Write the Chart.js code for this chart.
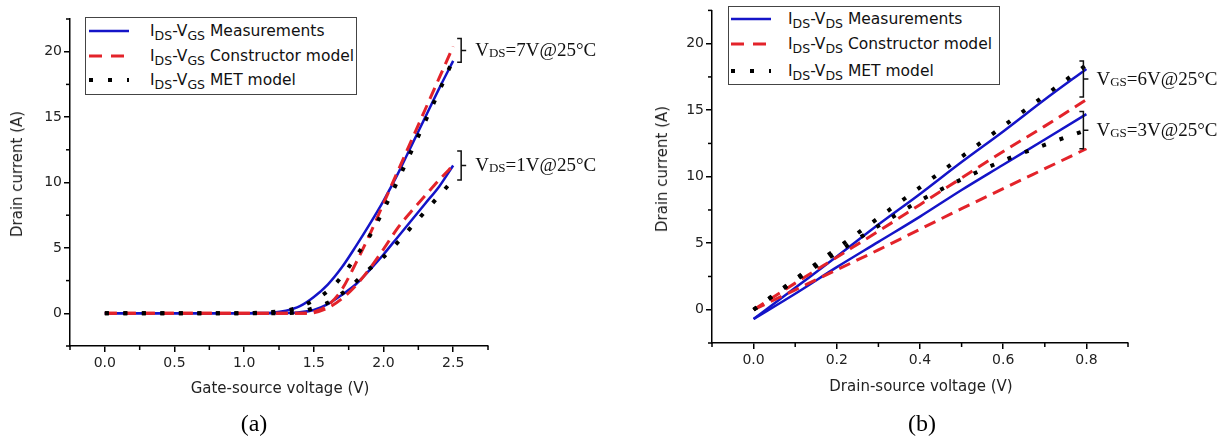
<!DOCTYPE html>
<html>
<head>
<meta charset="utf-8">
<script src="https://cdn.jsdelivr.net/npm/chart.js@4.4.1/dist/chart.umd.min.js"></script>
<style>
  body { margin: 0; background: #fff; width: 1227px; height: 440px; overflow: hidden; position: relative;
         font-family: "DejaVu Sans", sans-serif; color: #111; }
  .panel { position: absolute; top: 0; height: 440px; }
  .t { position: absolute; white-space: nowrap; transform: translate(-50%, -50%); }
  .ytitle { transform: translate(-50%, -50%) rotate(-90deg); }
  .axt { font-size: 15px; color: #222; }
  .cap { font-family: "Liberation Serif", serif; font-size: 24px; color: #000; }
  .lgd { position: absolute; border: 1px solid #444; background: #fff; }
  .row { position: absolute; left: 0; height: 24px; display: flex; align-items: center; white-space: nowrap; font-size: 15.5px; }
  .row svg { position: absolute; }
  .row span { position: absolute; }
  sub { font-size: 12.5px; vertical-align: -4px; line-height: 0; }
  .ann { position: absolute; white-space: nowrap; transform: translateY(-50%); font-family: "Liberation Serif", serif; font-size: 19px; color: #111; }
  .ann sub { font-size: 13px; vertical-align: -1px; }
</style>
</head>
<body>

<div class="panel" id="pa" style="left:0;width:613px"><canvas id="chartA"></canvas></div>
<div class="panel" id="pb" style="left:613px;width:614px"><canvas id="chartB"></canvas></div>

<!-- axis titles and captions -->
<div class="t ytitle axt" style="left:17px;top:174px">Drain current (A)</div>
<div class="t axt" style="left:280px;top:388px">Gate-source voltage (V)</div>
<div class="t cap" style="left:254px;top:423px">(a)</div>
<div class="t ytitle axt" style="left:662px;top:169px">Drain current (A)</div>
<div class="t axt" style="left:921px;top:386px">Drain-source voltage (V)</div>
<div class="t cap" style="left:922px;top:423px">(b)</div>

<!-- legends -->
<div class="lgd" style="left:85px;top:17px;width:270px;height:76px">
  <div class="row" style="top:1px">
    <svg width="44" height="24" style="left:2px"><line x1="1" y1="12" x2="41" y2="12" stroke="#1414c8" stroke-width="2.5"/></svg>
    <span style="left:64px">I<sub>DS</sub>-V<sub>GS</sub> Measurements</span></div>
  <div class="row" style="top:26px">
    <svg width="44" height="24" style="left:2px"><line x1="1" y1="12" x2="41" y2="12" stroke="#e3232a" stroke-width="3" stroke-dasharray="13 9"/></svg>
    <span style="left:64px">I<sub>DS</sub>-V<sub>GS</sub> Constructor model</span></div>
  <div class="row" style="top:50px">
    <svg width="44" height="24" style="left:2px"><line x1="1" y1="12" x2="41" y2="12" stroke="#000" stroke-width="4" stroke-dasharray="4 15"/></svg>
    <span style="left:64px">I<sub>DS</sub>-V<sub>GS</sub> MET model</span></div>
</div>
<div class="lgd" style="left:728px;top:6px;width:270px;height:77px">
  <div class="row" style="top:0px">
    <svg width="44" height="24" style="left:1px"><line x1="1" y1="12" x2="41" y2="12" stroke="#1414c8" stroke-width="2.5"/></svg>
    <span style="left:59px">I<sub>DS</sub>-V<sub>DS</sub> Measurements</span></div>
  <div class="row" style="top:25px">
    <svg width="44" height="24" style="left:1px"><line x1="1" y1="12" x2="41" y2="12" stroke="#e3232a" stroke-width="3" stroke-dasharray="13 9"/></svg>
    <span style="left:59px">I<sub>DS</sub>-V<sub>DS</sub> Constructor model</span></div>
  <div class="row" style="top:52px">
    <svg width="44" height="24" style="left:1px"><line x1="1" y1="12" x2="41" y2="12" stroke="#000" stroke-width="4" stroke-dasharray="4 15"/></svg>
    <span style="left:59px">I<sub>DS</sub>-V<sub>DS</sub> MET model</span></div>
</div>

<!-- curve annotations, placed by the bracket plugin -->
<div class="ann" id="annA1">V<sub>DS</sub>=7V@25°C</div>
<div class="ann" id="annA2">V<sub>DS</sub>=1V@25°C</div>
<div class="ann" id="annB1">V<sub>GS</sub>=6V@25°C</div>
<div class="ann" id="annB2">V<sub>GS</sub>=3V@25°C</div>

<script>
// ---- (a) transfer curves: gate-source voltage vs drain current ----
var vgs = [0, 0.1, 0.2, 0.3, 0.4, 0.5, 0.6, 0.7, 0.8, 0.9, 1.0, 1.1, 1.2,
           1.3, 1.4, 1.5, 1.6, 1.7, 1.8, 1.9, 2.0, 2.1, 2.2, 2.3, 2.4, 2.5];
// VDS = 7 V
var meas7 = [0, 0, 0, 0, 0, 0, 0, 0, 0, 0, 0, 0.02, 0.05,
             0.2, 0.55, 1.25, 2.2, 3.5, 5.1, 6.8, 8.6, 10.6, 12.8, 15.0, 17.2, 19.3];
var cons7 = [0, 0, 0, 0, 0, 0, 0, 0, 0, 0, 0, 0, 0,
             0, 0, 0.1, 0.6, 1.8, 3.8, 6.0, 8.4, 10.8, 13.2, 15.6, 18.0, 20.4];
var met7  = [0, 0, 0, 0, 0, 0, 0, 0, 0, 0, 0, 0.05, 0.1,
             0.2, 0.5, 1.0, 1.7, 2.8, 4.3, 5.9, 7.9, 10.1, 12.4, 14.7, 17.0, 19.4];
// VDS = 1 V
var meas1 = [0, 0, 0, 0, 0, 0, 0, 0, 0, 0, 0, 0, 0,
             0.02, 0.08, 0.25, 0.7, 1.4, 2.2, 3.3, 4.5, 5.8, 7.1, 8.4, 9.7, 11.3];
var cons1 = [0, 0, 0, 0, 0, 0, 0, 0, 0, 0, 0, 0, 0,
             0, 0, 0.05, 0.4, 1.1, 2.1, 3.4, 4.9, 6.5, 7.8, 9.0, 10.2, 11.3];
var met1  = [0, 0, 0, 0, 0, 0, 0, 0, 0, 0, 0, 0, 0,
             0.02, 0.1, 0.4, 0.8, 1.5, 2.4, 3.4, 4.3, 5.4, 6.6, 7.8, 9.0, 10.2];

// ---- (b) output curves: drain-source voltage vs drain current ----
var vds = [0, 0.1, 0.2, 0.3, 0.4, 0.5, 0.6, 0.7, 0.8];
var meas6 = [-0.7, 1.65, 4.0, 6.4, 8.7, 11.1, 13.4, 15.8, 18.1];
var cons6 = [0, 2.0, 3.95, 5.9, 7.9, 9.9, 11.9, 13.8, 15.8];
var met6  = [0, 2.3, 4.6, 6.9, 9.2, 11.5, 13.8, 16.1, 18.4];
var meas3 = [-0.7, 1.2, 3.2, 5.1, 7.0, 9.0, 10.9, 12.8, 14.7];
var cons3 = [0, 1.5, 3.0, 4.5, 6.05, 7.6, 9.1, 10.6, 12.1];
var met3  = [0, 2.2, 4.3, 6.3, 8.2, 9.8, 11.2, 12.4, 13.5];

// ticks
var aXTicks = [0, 0.5, 1.0, 1.5, 2.0, 2.5];
var aXMinor = [-0.25, 0.25, 0.75, 1.25, 1.75, 2.25, 2.75];
var bXTicks = [0, 0.2, 0.4, 0.6, 0.8];
var bXMinor = [-0.1, 0.1, 0.3, 0.5, 0.7, 0.9];
var yTicks = [0, 5, 10, 15, 20];
var yMinor = [-2.5, 2.5, 7.5, 12.5, 17.5, 22.5];

// brackets next to curve ends: [x, top, bottom]
var aBrackets = [[2.5, 21.0, 19.2], [2.5, 12.4, 10.2]];
var bBrackets = [[0.8, 18.7, 16.0], [0.8, 14.9, 12.1]];

var BLUE = '#1414c8', RED = '#e3232a', BLACK = '#000';

function pts(xs, ys) { return xs.map(function(x, i) { return {x: x, y: ys[i]}; }); }

function ds(xs, ys, kind) {
  var d = { data: pts(xs, ys), pointRadius: 0, fill: false, cubicInterpolationMode: 'monotone' };
  if (kind === 'meas') { d.borderColor = BLUE; d.borderWidth = 2.5; }
  if (kind === 'cons') { d.borderColor = RED; d.borderWidth = 3; d.borderDash = [12, 7]; }
  if (kind === 'met')  { d.borderColor = BLACK; d.borderWidth = 4; d.borderDash = [4, 14.5]; }
  return d;
}

// minor ticks, drawn outwards from the axes (Chart.js has none)
var minorTicks = {
  id: 'minorTicks',
  afterDraw: function(chart, args, opts) {
    var c = chart.ctx, sx = chart.scales.x, sy = chart.scales.y, a = chart.chartArea;
    c.save(); c.strokeStyle = '#000'; c.lineWidth = 1.5;
    opts.x.forEach(function(v) { var p = sx.getPixelForValue(v); c.beginPath(); c.moveTo(p, a.bottom); c.lineTo(p, a.bottom + 4); c.stroke(); });
    opts.y.forEach(function(v) { var p = sy.getPixelForValue(v); c.beginPath(); c.moveTo(a.left, p); c.lineTo(a.left - 4, p); c.stroke(); });
    c.restore();
  }
};

// "}" brackets with their labels
var brackets = {
  id: 'brackets',
  afterDraw: function(chart, args, opts) {
    var c = chart.ctx, sx = chart.scales.x, sy = chart.scales.y;
    var off = chart.canvas.parentNode.offsetLeft;
    c.save(); c.strokeStyle = '#111'; c.lineWidth = 1.5;
    opts.items.forEach(function(b, i) {
      var px = sx.getPixelForValue(b[0]) + opts.dx;
      var y0 = sy.getPixelForValue(b[1]), y1 = sy.getPixelForValue(b[2]), ym = (y0 + y1) / 2;
      c.beginPath();
      c.moveTo(px - 4, y0); c.lineTo(px, y0); c.lineTo(px, y1); c.lineTo(px - 4, y1);
      c.moveTo(px, ym); c.lineTo(px + 5, ym);
      c.stroke();
      var el = document.getElementById(opts.labels[i]);
      el.style.left = (off + px + opts.textDx) + 'px';
      el.style.top = ym + 'px';
    });
    c.restore();
  }
};

function scales(xmin, xmax, xTicks, yw, xh) {
  var axis = {
    type: 'linear',
    grid: { drawOnChartArea: false, drawTicks: true, tickLength: 6, color: '#000', lineWidth: 1.5 },
    border: { display: true, color: '#000', width: 1.5 },
    ticks: { color: '#222', font: { family: 'DejaVu Sans', size: 14 } }
  };
  var x = JSON.parse(JSON.stringify(axis)), y = JSON.parse(JSON.stringify(axis));
  x.min = xmin; x.max = xmax; x.ticks.padding = 3; x.ticks.maxRotation = 0;
  x.ticks.callback = function(v) { return Number(v).toFixed(1); };
  x.afterBuildTicks = function(s) { s.ticks = xTicks.map(function(v) { return {value: v}; }); };
  x.afterFit = function(s) { s.height = xh; };
  y.min = -2.5; y.max = 22.5; y.ticks.padding = 2;
  y.afterBuildTicks = function(s) { s.ticks = yTicks.map(function(v) { return {value: v}; }); };
  y.afterFit = function(s) { s.width = yw; };
  return { x: x, y: y };
}

function baseOptions(pad, sc, minor, br) {
  return {
    responsive: true, maintainAspectRatio: false, animation: false,
    layout: { padding: pad },
    plugins: { legend: { display: false }, tooltip: { enabled: false }, minorTicks: minor, brackets: br },
    scales: sc
  };
}

document.addEventListener('DOMContentLoaded', function() {
  new Chart(document.getElementById('chartA'), {
    type: 'line',
    data: { datasets: [
      ds(vgs, met7, 'met'), ds(vgs, met1, 'met'),
      ds(vgs, cons7, 'cons'), ds(vgs, cons1, 'cons'),
      ds(vgs, meas7, 'meas'), ds(vgs, meas1, 'meas')
    ] },
    options: baseOptions({ left: 0, top: 19, right: 125, bottom: 0 },
      scales(-0.25, 2.75, aXTicks, 70, 94),
      { x: aXMinor, y: yMinor },
      { items: aBrackets, dx: 8, textDx: 14, labels: ['annA1', 'annA2'] }),
    plugins: [minorTicks, brackets]
  });

  new Chart(document.getElementById('chartB'), {
    type: 'line',
    data: { datasets: [
      ds(vds, met6, 'met'), ds(vds, met3, 'met'),
      ds(vds, cons6, 'cons'), ds(vds, cons3, 'cons'),
      ds(vds, meas6, 'meas'), ds(vds, meas3, 'meas')
    ] },
    options: baseOptions({ left: 0, top: 7, right: 99, bottom: 0 },
      scales(-0.1, 0.9, bXTicks, 99, 97),
      { x: bXMinor, y: yMinor },
      { items: bBrackets, dx: -3, textDx: 13, labels: ['annB1', 'annB2'] }),
    plugins: [minorTicks, brackets]
  });
});
</script>
</body>
</html>
